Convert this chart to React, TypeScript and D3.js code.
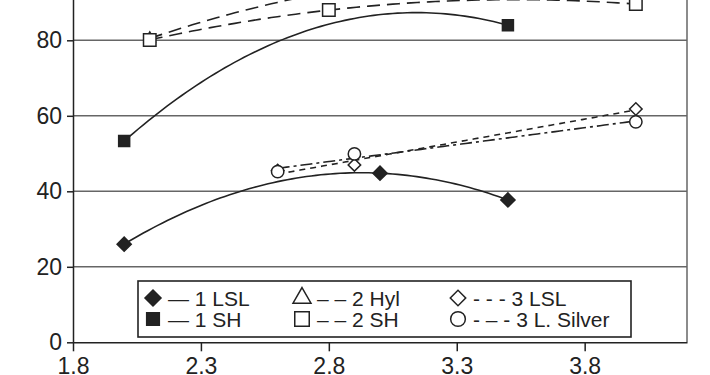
import React, { useEffect, useRef } from 'react';
import * as d3 from 'd3';

// axis ticks
const X_TICKS = [1.8, 2.3, 2.8, 3.3, 3.8];
const Y_TICKS = [0, 20, 40, 60, 80, 100];

// series values (x, y)
const lsl1X = [2.0, 3.0, 3.5];
const lsl1Y = [26.0, 44.8, 37.7];
const sh1X = [2.0, 3.0, 3.5];
const sh1Y = [53.3, 86.8, 84.0];
const sh1Shown = [true, false, true]; // middle point has no marker in the figure
const hyl2X = [2.1, 2.8, 4.0];
const hyl2Y = [80.5, 92.8, 96.5];
const sh2X = [2.1, 2.8, 4.0];
const sh2Y = [80.1, 88.0, 89.6];
const lsl3X = [2.6, 2.9, 4.0];
const lsl3Y = [45.5, 47.0, 61.8];
const silver3X = [2.6, 2.9, 4.0];
const silver3Y = [45.2, 49.9, 58.4];

const NAMES = ['1 LSL', '1 SH', '2 Hyl', '2 SH', '3 LSL', '3 L. Silver'];
const LEGEND_DASH = ['\u2014', '\u2014', '\u2013 \u2013', '\u2013 \u2013', '- - -', '- \u2013 -'];

const FONT = '"Liberation Sans", Arial, sans-serif';
const INK = '#222';

// least squares polynomial fit, returns coefficients c0..cn
function polyFit(xs: number[], ys: number[], deg: number) {
  const n = deg + 1;
  const A = Array.from({ length: n }, () => new Array(n + 1).fill(0));
  for (let i = 0; i < xs.length; i++) {
    for (let r = 0; r < n; r++) {
      for (let c = 0; c < n; c++) A[r][c] += Math.pow(xs[i], r + c);
      A[r][n] += ys[i] * Math.pow(xs[i], r);
    }
  }
  for (let p = 0; p < n; p++) {
    let best = p;
    for (let r = p + 1; r < n; r++) if (Math.abs(A[r][p]) > Math.abs(A[best][p])) best = r;
    [A[p], A[best]] = [A[best], A[p]];
    for (let r = 0; r < n; r++) {
      if (r === p) continue;
      const f = A[r][p] / A[p][p];
      for (let c = p; c <= n; c++) A[r][c] -= f * A[p][c];
    }
  }
  return A.map((row, i) => row[n] / A[i][i]);
}

// symbol type, area in chart, area in legend, filled, rotation
const SHAPES: Record<string, [d3.SymbolType, number, number, boolean, number]> = {
  diamondFilled: [d3.symbolSquare, 100, 128, true, 45],
  squareFilled: [d3.symbolSquare, 121, 160, true, 0],
  triangle: [d3.symbolTriangle, 55, 140, false, 0],
  square: [d3.symbolSquare, 156, 210, false, 0],
  diamond: [d3.symbolSquare, 78, 120, false, 45],
  circle: [d3.symbolCircle, 120, 170, false, 0],
};

function App() {
  const svgRef = useRef<SVGSVGElement>(null);

  useEffect(() => {
    const svg = d3.select(svgRef.current);
    svg.selectAll('*').remove();

    const x = d3.scaleLinear().domain([1.8, 4.2]).range([73, 687]);
    const y = d3.scaleLinear().domain([0, 100]).range([342.3, -35.2]);

    // gridlines
    svg.append('g')
      .selectAll('line')
      .data(Y_TICKS.filter(d => d > 0))
      .join('line')
        .attr('x1', x(1.8))
        .attr('x2', x(4.2))
        .attr('y1', d => y(d))
        .attr('y2', d => y(d))
        .attr('stroke', '#666')
        .attr('stroke-width', 1.5);

    // right frame
    svg.append('line')
      .attr('x1', x(4.2)).attr('x2', x(4.2))
      .attr('y1', y(0)).attr('y2', y(100))
      .attr('stroke', '#666')
      .attr('stroke-width', 1.5);

    // axes
    const xAxis = svg.append('g')
      .attr('transform', `translate(0,${y(0)})`)
      .call(d3.axisBottom(x).tickValues(X_TICKS).tickSize(9).tickSizeOuter(0).tickPadding(6).tickFormat(d3.format('.1f')));
    const yAxis = svg.append('g')
      .attr('transform', `translate(${x(1.8)},0)`)
      .call(d3.axisLeft(y).tickValues(Y_TICKS).tickSize(6).tickSizeOuter(0).tickPadding(5).tickFormat(d3.format('d')));
    [xAxis, yAxis].forEach(g => {
      g.selectAll('path, line').attr('stroke', INK).attr('stroke-width', 1.5);
      g.selectAll('text').attr('fill', INK).style('font-family', FONT).style('font-size', '23px');
    });

    // trend lines
    const trend = (xs: number[], ys: number[], deg: number, dash: string | null) => {
      const c = polyFit(xs, ys, deg);
      const lo = d3.min(xs) as number, hi = d3.max(xs) as number;
      const samples = d3.range(0, 81).map(i => lo + (hi - lo) * i / 80);
      const line = d3.line<number>()
        .x(d => x(d))
        .y(d => y(c.reduce((s, k, i) => s + k * Math.pow(d, i), 0)));
      svg.append('path')
        .datum(samples)
        .attr('fill', 'none')
        .attr('stroke', INK)
        .attr('stroke-width', 1.6)
        .attr('stroke-dasharray', dash)
        .attr('d', line);
    };
    trend(lsl1X, lsl1Y, 2, null);
    trend(sh1X, sh1Y, 2, null);
    trend(hyl2X, hyl2Y, 2, '13,7');
    trend(sh2X, sh2Y, 2, '13,7');
    trend(lsl3X, lsl3Y, 1, '6,5');
    trend(silver3X, silver3Y, 1, '12,4,3,4');

    // markers
    const marker = (g: d3.Selection<SVGGElement, unknown, null, undefined>, kind: string, cx: number, cy: number, inLegend = false) => {
      const [type, size, legendSize, filled, rot] = SHAPES[kind];
      g.append('path')
        .attr('d', d3.symbol(type, inLegend ? legendSize : size)())
        .attr('transform', `translate(${cx},${cy}) rotate(${rot})`)
        .attr('fill', filled ? INK : '#fff')
        .attr('stroke', INK)
        .attr('stroke-width', 1.5);
    };

    const pts = svg.append('g');
    const drawPoints = (xs: number[], ys: number[], kind: string, shown?: boolean[]) => {
      xs.forEach((xv, i) => {
        if (shown && !shown[i]) return;
        marker(pts, kind, x(xv), y(ys[i]));
      });
    };
    drawPoints(hyl2X, hyl2Y, 'triangle');
    drawPoints(sh2X, sh2Y, 'square');
    drawPoints(lsl1X, lsl1Y, 'diamondFilled');
    drawPoints(sh1X, sh1Y, 'squareFilled', sh1Shown);
    drawPoints(lsl3X, lsl3Y, 'diamond');
    drawPoints(silver3X, silver3Y, 'circle');

    // legend
    const legend = svg.append('g');
    legend.append('rect')
      .attr('x', 138).attr('y', 281)
      .attr('width', 493).attr('height', 56)
      .attr('fill', '#fff')
      .attr('stroke', INK)
      .attr('stroke-width', 1.6);
    const kinds = ['diamondFilled', 'squareFilled', 'triangle', 'square', 'diamond', 'circle'];
    const colX = [153, 302, 458];
    const rowY = [298, 319];
    NAMES.forEach((name, i) => {
      const col = Math.floor(i / 2), row = i % 2;
      marker(legend, kinds[i], colX[col], rowY[row], true);
      legend.append('text')
        .attr('x', colX[col] + 15)
        .attr('y', rowY[row] + 8)
        .attr('fill', INK)
        .style('font-family', FONT)
        .style('font-size', '21px')
        .text(`${LEGEND_DASH[i]} ${name}`);
    });
  }, []);

  return (
    <svg
      ref={svgRef}
      width={710}
      height={375}
      style={{ position: 'absolute', left: 0, top: 0, background: '#fff' }}
    />
  );
}

export default App;
